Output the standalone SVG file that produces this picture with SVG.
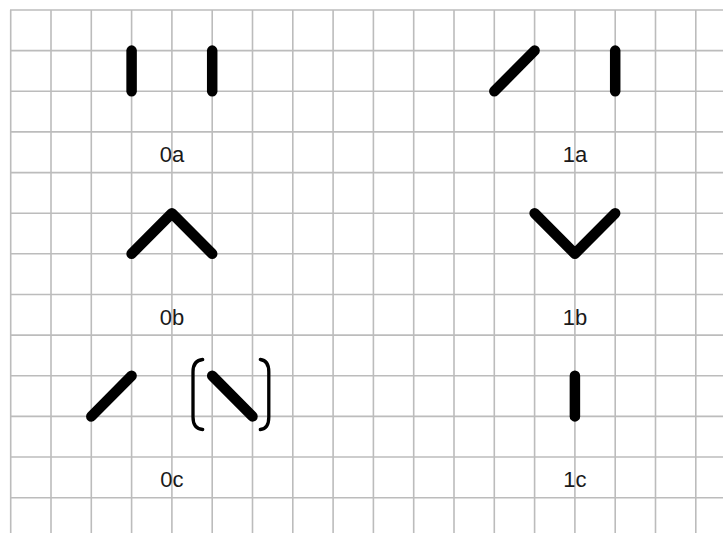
<svg xmlns="http://www.w3.org/2000/svg" width="723" height="533" viewBox="0 0 723 533">
<style>
.grid line{stroke:#bcbcbc;stroke-width:1.6}
.g{fill:none;stroke:#000;stroke-width:10.5;stroke-linecap:round;stroke-linejoin:round}
.br{fill:none;stroke:#000;stroke-width:3.3;stroke-linecap:round}
.lbl{font-family:"Liberation Sans",Arial,sans-serif;font-size:22px;fill:#1a1a1a;text-anchor:middle}
</style>
<rect width="723" height="533" fill="#fff"/>
<g class="grid">
<line x1="10.7" y1="10" x2="10.7" y2="533"/>
<line x1="51" y1="10" x2="51" y2="533"/>
<line x1="91.3" y1="10" x2="91.3" y2="533"/>
<line x1="131.6" y1="10" x2="131.6" y2="533"/>
<line x1="171.9" y1="10" x2="171.9" y2="533"/>
<line x1="212.2" y1="10" x2="212.2" y2="533"/>
<line x1="252.5" y1="10" x2="252.5" y2="533"/>
<line x1="292.8" y1="10" x2="292.8" y2="533"/>
<line x1="333.1" y1="10" x2="333.1" y2="533"/>
<line x1="373.4" y1="10" x2="373.4" y2="533"/>
<line x1="413.7" y1="10" x2="413.7" y2="533"/>
<line x1="454" y1="10" x2="454" y2="533"/>
<line x1="494.3" y1="10" x2="494.3" y2="533"/>
<line x1="534.6" y1="10" x2="534.6" y2="533"/>
<line x1="574.9" y1="10" x2="574.9" y2="533"/>
<line x1="615.2" y1="10" x2="615.2" y2="533"/>
<line x1="655.5" y1="10" x2="655.5" y2="533"/>
<line x1="695.8" y1="10" x2="695.8" y2="533"/>
<line x1="10" y1="10" x2="723" y2="10"/>
<line x1="10" y1="50.6" x2="723" y2="50.6"/>
<line x1="10" y1="91.3" x2="723" y2="91.3"/>
<line x1="10" y1="131.9" x2="723" y2="131.9"/>
<line x1="10" y1="172.6" x2="723" y2="172.6"/>
<line x1="10" y1="213.2" x2="723" y2="213.2"/>
<line x1="10" y1="253.8" x2="723" y2="253.8"/>
<line x1="10" y1="294.5" x2="723" y2="294.5"/>
<line x1="10" y1="335.1" x2="723" y2="335.1"/>
<line x1="10" y1="375.8" x2="723" y2="375.8"/>
<line x1="10" y1="416.4" x2="723" y2="416.4"/>
<line x1="10" y1="457" x2="723" y2="457"/>
<line x1="10" y1="497.7" x2="723" y2="497.7"/>
</g>
<g id="n0a">
<line class="g" x1="131.6" y1="50.6" x2="131.6" y2="91.3"/>
<line class="g" x1="212.2" y1="50.6" x2="212.2" y2="91.3"/>
<text class="lbl" x="171.9" y="162">0a</text>
</g>
<g id="n1a">
<line class="g" x1="494.3" y1="91.3" x2="534.6" y2="50.6"/>
<line class="g" x1="615.2" y1="50.6" x2="615.2" y2="91.3"/>
<text class="lbl" x="574.9" y="162">1a</text>
</g>
<g id="n0b">
<polyline class="g" points="131.6,253.8 171.9,213.2 212.2,253.8"/>
<text class="lbl" x="171.9" y="324.8">0b</text>
</g>
<g id="n1b">
<polyline class="g" points="534.6,213.2 574.9,253.8 615.2,213.2"/>
<text class="lbl" x="574.9" y="324.8">1b</text>
</g>
<g id="n0c">
<line class="g" x1="91.3" y1="416.4" x2="131.6" y2="375.8"/>
<path class="br" d="M202.7,359.5 C196,360 193,364 193,372 L193,417 C193,425 196,429 202.7,429.5"/>
<line class="g" x1="212.2" y1="375.8" x2="252.5" y2="416.4"/>
<path class="br" d="M260.3,359.5 C266,360 268.8,364 268.8,372 L268.8,417 C268.8,425 266,429 260.3,429.5"/>
<text class="lbl" x="171.9" y="486.5">0c</text>
</g>
<g id="n1c">
<line class="g" x1="574.9" y1="375.8" x2="574.9" y2="416.4"/>
<text class="lbl" x="574.9" y="486.5">1c</text>
</g>
</svg>
